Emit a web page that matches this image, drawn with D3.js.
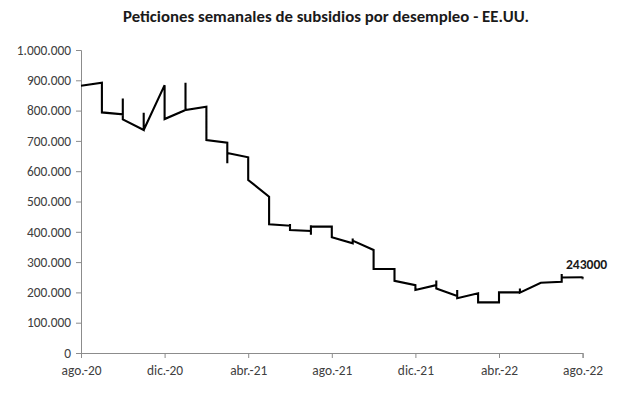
<!DOCTYPE html>
<html>
<head>
<meta charset="utf-8">
<script src="https://cdn.jsdelivr.net/npm/d3@7"></script>
<style>
  body { margin: 0; background: #fff; }
  svg { display: block; }
</style>
</head>
<body>
<svg id="chart" width="617" height="397"></svg>
<script>
// months on the date axis (Excel base unit = month, weeks collapse onto the month)
const months = ["ago.-20","sep.-20","oct.-20","nov.-20","dic.-20","ene.-21","feb.-21","mar.-21",
  "abr.-21","may.-21","jun.-21","jul.-21","ago.-21","sep.-21","oct.-21","nov.-21","dic.-21",
  "ene.-22","feb.-22","mar.-22","abr.-22","may.-22","jun.-22","jul.-22","ago.-22"];

// weekly claims (thousands) inside each month, in order
const weekly = [
  [882],
  [892, 794],
  [788, 840, 771],
  [736, 793, 736],
  [884, 772],
  [802, 892, 802],
  [813, 703],
  [694, 626, 660],
  [646, 571],
  [516, 425],
  [420, 426, 406],
  [403, 390, 422, 417],
  [417, 382],
  [362, 378, 371],
  [340, 277],
  [277, 238],
  [224, 208],
  [224, 239, 213],
  [188, 208, 181],
  [197, 167],
  [167, 200],
  [200, 213, 199],
  [232],
  [235, 261, 249],
  [250, 252, 243]
];

const yTicks = [0, 100000, 200000, 300000, 400000, 500000, 600000, 700000, 800000, 900000, 1000000];
const lastLabel = "243000";

const svg = d3.select("#chart");
const mLeft = 81, mRight = 582.6, mTop = 50, mBottom = 353;

const x = d3.scaleLinear().domain([0, months.length - 1]).range([mLeft, mRight]);
const y = d3.scaleLinear().domain([0, 1000000]).range([mBottom, mTop]);

const loc = d3.formatLocale({decimal: ",", thousands: ".", grouping: [3], currency: ["", ""]});
const fmt = loc.format(",d");

const font = "Carlito, Lato, sans-serif";

// title
svg.append("text")
  .attr("x", 326).attr("y", 22)
  .attr("text-anchor", "middle")
  .attr("font-family", font)
  .attr("font-size", 16.8)
  .attr("font-weight", "bold")
  .attr("fill", "#1a1a1a")
  .text("Peticiones semanales de subsidios por desempleo - EE.UU.");

// y axis
const yAxis = svg.append("g")
  .attr("transform", `translate(${mLeft},0)`)
  .call(d3.axisLeft(y).tickValues(yTicks).tickSize(5).tickPadding(5)
    .tickFormat(d => d === 0 ? "0" : fmt(d)));

// x axis
const xAxis = svg.append("g")
  .attr("transform", `translate(0,${mBottom})`)
  .call(d3.axisBottom(x).tickValues(d3.range(0, months.length, 4)).tickSize(5).tickPadding(7)
    .tickFormat(i => months[i]));

[yAxis, xAxis].forEach(g => {
  g.select(".domain").attr("stroke", "#8c8c8c");
  g.selectAll(".tick line").attr("stroke", "#8c8c8c");
  g.selectAll("text")
    .attr("font-family", font)
    .attr("font-size", 13.4)
    .attr("fill", "#404040");
});
xAxis.selectAll("text").attr("dy", "0.71em");

// series
const pts = [];
weekly.forEach((w, i) => w.forEach(v => pts.push([i, v * 1000])));

const line = d3.line()
  .x(d => x(d[0]))
  .y(d => y(d[1]));

svg.append("path")
  .datum(pts)
  .attr("d", line)
  .attr("fill", "none")
  .attr("stroke", "#000")
  .attr("stroke-width", 2.1)
  .attr("stroke-linejoin", "miter");

// label on last point
const last = pts[pts.length - 1];
svg.append("text")
  .attr("x", x(last[0]) + 4)
  .attr("y", y(last[1]) - 10)
  .attr("text-anchor", "middle")
  .attr("font-family", font)
  .attr("font-size", 13.6)
  .attr("font-weight", "bold")
  .attr("fill", "#1a1a1a")
  .text(lastLabel);
</script>
</body>
</html>
